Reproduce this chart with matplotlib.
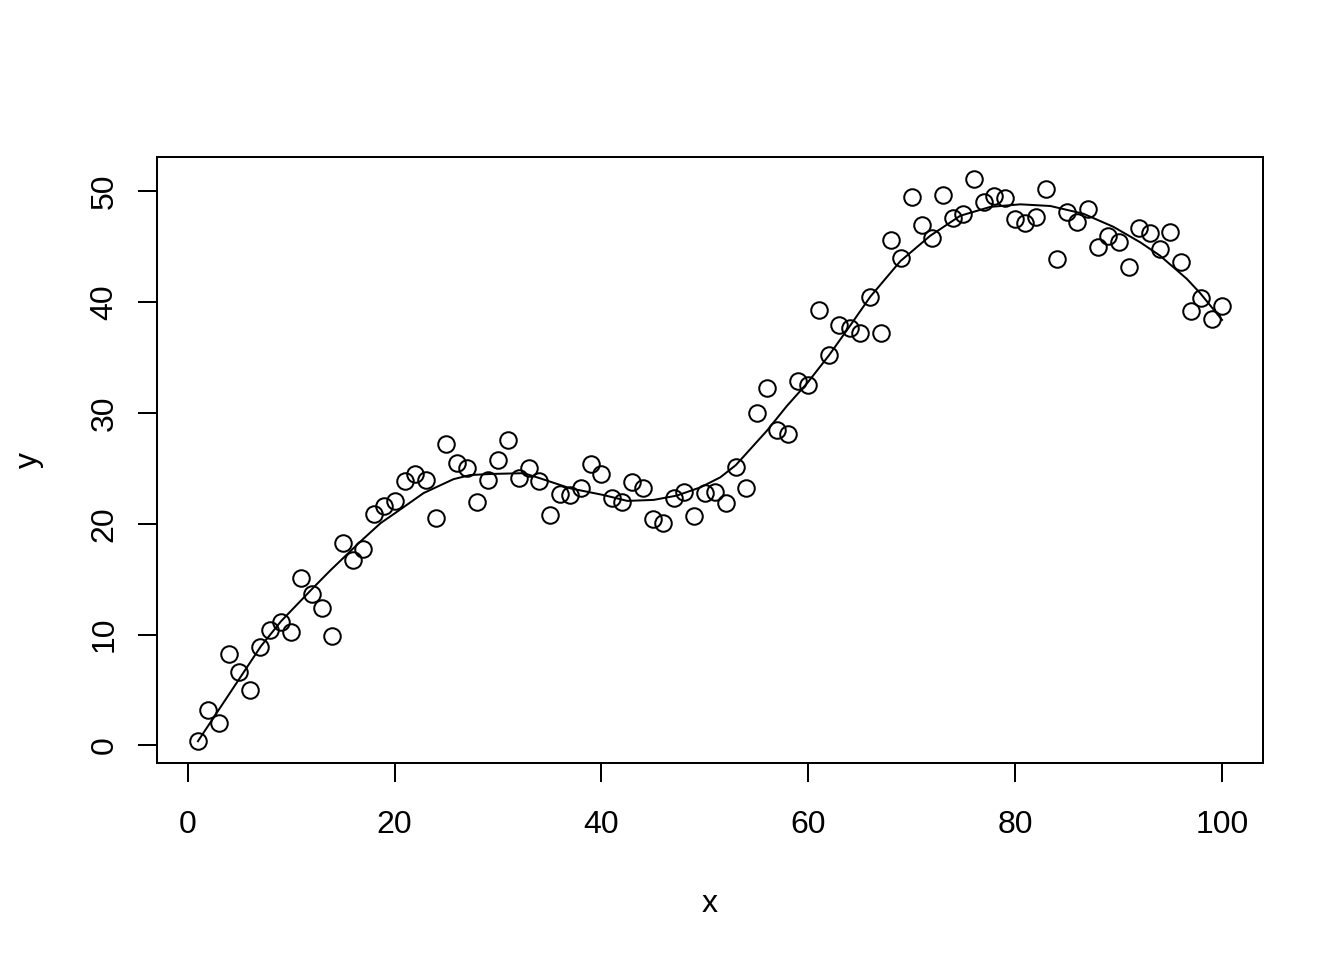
import numpy as np
import matplotlib
matplotlib.use("Agg")
import matplotlib.pyplot as plt

# Scatter data
x = np.arange(1, 101)
y = [0.45, 3.2, 2.0, 8.3, 6.6, 5.0, 8.9, 10.4, 11.1, 10.2,
     15.1, 13.7, 12.4, 9.9, 18.3, 16.7, 17.7, 20.9, 21.6, 22.1,
     23.9, 24.5, 24.0, 20.5, 27.2, 25.5, 25.0, 22.0, 24.0, 25.8,
     27.6, 24.1, 25.0, 23.9, 20.8, 22.7, 22.6, 23.2, 25.4, 24.5,
     22.3, 22.0, 23.8, 23.2, 20.4, 20.1, 22.3, 22.9, 20.7, 22.8,
     22.9, 21.9, 25.1, 23.2, 30.0, 32.3, 28.5, 28.1, 32.9, 32.5,
     39.3, 35.2, 37.9, 37.7, 37.2, 40.5, 37.2, 45.6, 44.0, 49.5,
     47.0, 45.8, 49.7, 47.6, 48.0, 51.1, 49.0, 49.6, 49.4, 47.5,
     47.1, 47.7, 50.2, 43.9, 48.1, 47.2, 48.4, 45.0, 46.0, 45.4,
     43.2, 46.7, 46.2, 44.8, 46.3, 43.6, 39.2, 40.4, 38.5, 39.7]

# Smooth line
curve_x = [1.0, 3.06, 5.15, 7.08, 9.02, 11.9, 13.8, 16.7, 18.65, 20.26,
           22.8, 25.7, 27.3, 29.3, 32.5, 34.1, 37.0, 40.2, 42.5, 45.05,
           47.3, 49.6, 51.5, 53.0, 56.0, 57.9, 59.9, 62.0, 64.06, 66.0,
           68.9, 71.8, 74.7, 77.6, 80.5, 83.4, 86.6, 89.5, 92.1, 94.0,
           96.6, 97.9, 100.0]
curve_y = [0.39, 3.29, 6.23, 8.95, 11.2, 14.0, 15.8, 18.4, 20.06, 21.1,
           22.77, 24.03, 24.4, 24.5, 24.57, 24.1, 23.2, 22.6, 22.07, 22.16,
           22.55, 23.3, 24.2, 25.3, 28.4, 30.6, 32.7, 35.2, 37.9, 40.5,
           43.7, 46.0, 47.8, 48.6, 48.83, 48.68, 47.98, 46.8, 45.4, 44.2,
           42.1, 40.8, 38.4]

plt.rcParams['font.family'] = ['Liberation Sans', 'DejaVu Sans']
fig = plt.figure(figsize=(7, 5), dpi=192)
ax = fig.add_axes([157/1344, 1-763/960, (1263-157)/1344, (763-157)/960])
ax.plot(x, y, 'o', mfc='none', mec='black', ms=6.2, mew=0.75)
ax.plot(curve_x, curve_y, '-', color='black', lw=0.75)
ax.set_xlim(-2.96, 103.96)
ax.set_ylim(-1.58, 53.1)
ax.set_xticks([0, 20, 40, 60, 80, 100])
ax.set_yticks([0, 10, 20, 30, 40, 50])
ax.tick_params(direction='out', length=7.1, width=0.75, labelsize=12)
ax.tick_params(axis='x', pad=10.4)
ax.tick_params(axis='y', pad=7)
for lab in ax.get_yticklabels():
    lab.set_rotation(90)
    lab.set_va('center')
for s in ax.spines.values():
    s.set_linewidth(0.75)
ax.set_xlabel('x', fontsize=12, labelpad=18.5)
ax.set_ylabel('y', fontsize=12, labelpad=17)
fig.savefig('out.png', dpi=192)
